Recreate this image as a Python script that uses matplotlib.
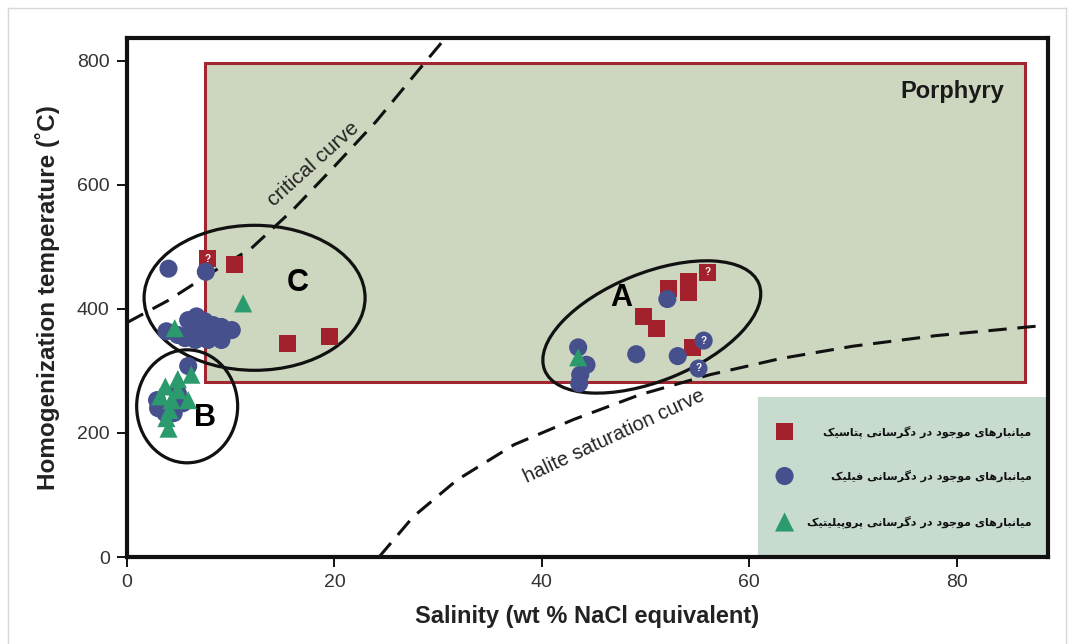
import numpy as np
import matplotlib
matplotlib.use("Agg")
import matplotlib.pyplot as plt
from matplotlib.patches import Rectangle, Ellipse
from matplotlib.transforms import ScaledTranslation
from matplotlib.lines import Line2D

plt.rcParams['font.family'] = ['Liberation Sans', 'DejaVu Sans']

# --- data ---
# potassic (squares)
potassic_x = [7.8, 10.4, 15.5, 19.5, 52.2, 54.1, 54.1, 56.0, 49.8, 51.1, 54.5]
potassic_y = [481, 472, 345, 355, 433, 444, 426, 459, 388, 369, 338]
potassic_q = [0, 7]            # indices drawn with "?"

# phyllic (circles)
phyllic_x = [4.0, 7.6, 3.8, 5.9, 6.7, 7.5, 8.3, 9.1, 10.1, 5.6, 6.6, 7.8, 9.1, 7.2, 8.5, 6.2, 4.9,
             5.9, 2.9, 3.0, 4.9, 3.7, 5.4, 4.5,
             52.1, 43.5, 44.3, 43.7, 43.6, 49.1, 53.1, 55.6, 55.1]
phyllic_y = [465, 460, 364, 382, 388, 380, 374, 371, 366, 353, 350, 350, 350, 361, 358, 366, 358,
             308, 253, 240, 264, 232, 248, 232,
             416, 338, 310, 294, 280, 327, 324, 349, 304]
phyllic_q = [31, 32]

# propylitic (triangles)
propylitic_x = [11.2, 4.6, 6.2, 4.9, 3.7, 3.2, 4.3, 5.9, 4.9, 3.8, 4.0, 4.1, 43.5]
propylitic_y = [409, 369, 294, 287, 275, 259, 253, 253, 269, 224, 207, 237, 322]

# critical curve and halite saturation curve
critical_x = [0, 4, 8, 12, 16, 20, 24, 28, 31]
critical_y = [378, 414, 457, 498, 560, 630, 702, 783, 843]
halite_x = [24.3, 27.6, 31.8, 37.3, 43.1, 49.5, 56.2, 63.0, 70.0, 78.0, 88.8]
halite_y = [0, 65, 124, 181, 222, 262, 294, 320, 340, 357, 374]

legend_labels = ["میانبارهای موجود در دگرسانی پتاسیک",
                 "میانبارهای موجود در دگرسانی فیلیک",
                 "میانبارهای موجود در دگرسانی پروپیلیتیک"]

RED = '#a3212d'
BLUE = '#46508d'
GREEN = '#2b9a6c'

# simple persian shaping (matplotlib draws no arabic joining)
FORMS = {
    'ا': ('\uFE8D', '\uFE8E', None, None),
    'ب': ('\uFE8F', '\uFE90', '\uFE91', '\uFE92'),
    'ت': ('\uFE95', '\uFE96', '\uFE97', '\uFE98'),
    'ج': ('\uFE9D', '\uFE9E', '\uFE9F', '\uFEA0'),
    'د': ('\uFEA9', '\uFEAA', None, None),
    'ر': ('\uFEAD', '\uFEAE', None, None),
    'س': ('\uFEB1', '\uFEB2', '\uFEB3', '\uFEB4'),
    'ف': ('\uFED1', '\uFED2', '\uFED3', '\uFED4'),
    'ل': ('\uFEDD', '\uFEDE', '\uFEDF', '\uFEE0'),
    'م': ('\uFEE1', '\uFEE2', '\uFEE3', '\uFEE4'),
    'ن': ('\uFEE5', '\uFEE6', '\uFEE7', '\uFEE8'),
    'ه': ('\uFEE9', '\uFEEA', '\uFEEB', '\uFEEC'),
    'و': ('\uFEED', '\uFEEE', None, None),
    'پ': ('\uFB56', '\uFB57', '\uFB58', '\uFB59'),
    'گ': ('\uFB92', '\uFB93', '\uFB94', '\uFB95'),
    'ک': ('\uFB8E', '\uFB8F', '\uFB90', '\uFB91'),
    'ی': ('\uFBFC', '\uFBFD', '\uFBFE', '\uFBFF'),
}


def shape(s):
    out = []
    for i, ch in enumerate(s):
        f = FORMS.get(ch)
        if f is None:
            out.append(ch)
            continue
        prev = s[i - 1] if i > 0 else None
        nxt = s[i + 1] if i < len(s) - 1 else None
        jp = prev in FORMS and FORMS[prev][2] is not None
        jn = nxt in FORMS and f[2] is not None
        if jp and jn:
            out.append(f[3])
        elif jp:
            out.append(f[1])
        elif jn:
            out.append(f[2])
        else:
            out.append(f[0])
    return ''.join(out)[::-1]


fig = plt.figure(figsize=(10.73, 6.44), dpi=100)
ax = fig.add_axes([127/1073, 1-557/644, (1048-127)/1073, (557-38)/644])
ax.set_xlim(0, 88.8)
ax.set_ylim(0, 837)

# outer light border of the picture
fig.add_artist(Line2D([8/1073, 8/1073], [0, 1-8/644], transform=fig.transFigure, color='#d8d8d8', lw=1))
fig.add_artist(Line2D([8/1073, 1066/1073], [1-8/644, 1-8/644], transform=fig.transFigure, color='#d8d8d8', lw=1))
fig.add_artist(Line2D([1066/1073, 1066/1073], [0, 1-8/644], transform=fig.transFigure, color='#d8d8d8', lw=1))

# porphyry field and legend panel
ax.add_patch(Rectangle((7.5, 282), 79.1, 514, fc='#cdd6bf', ec='#a0262f', lw=2.2, zorder=1))
ax.text(79.6, 750, 'Porphyry', fontsize=17, fontweight='bold', ha='center', va='center', color='#1a1a1a', zorder=2)
ax.add_patch(Rectangle((60.8, 0), 28.5, 258, fc='#c7dbcf', ec='none', zorder=1))

# curves
ax.plot(critical_x, critical_y, color='#111', lw=2.2, dashes=(6, 3.5), zorder=3)
ax.plot(halite_x, halite_y, color='#111', lw=2.2, dashes=(6, 3.5), zorder=3)
ax.text(18.0, 634, 'critical curve', fontsize=15, rotation=42, ha='center', va='center', color='#222', zorder=3)
ax.text(47.0, 194, 'halite saturation curve', fontsize=14.5, rotation=25, ha='center', va='center', color='#222', zorder=3)


# ellipses drawn in screen units so rotation stays true
def ring(cx, cy, w, h, ang):
    tr = fig.dpi_scale_trans + ScaledTranslation(cx, cy, ax.transData)
    ax.add_patch(Ellipse((0, 0), w/100, h/100, angle=ang, transform=tr,
                         fill=False, ec='#111', lw=2.3, zorder=4))


ring(12.3, 418, 221, 145, 0)
ring(5.8, 243, 101, 113, 0)
ring(50.6, 371, 231, 108, 22)
ax.text(16.5, 442, 'C', fontsize=22, fontweight='bold', ha='center', va='center', zorder=4)
ax.text(7.5, 224, 'B', fontsize=22, fontweight='bold', ha='center', va='center', zorder=4)
ax.text(47.7, 418, 'A', fontsize=22, fontweight='bold', ha='center', va='center', zorder=4)

# points
ax.scatter(potassic_x, potassic_y, marker='s', s=150, c=RED, edgecolors='none', zorder=5)
ax.scatter(phyllic_x, phyllic_y, marker='o', s=170, c=BLUE, edgecolors='none', zorder=6)
ax.scatter(propylitic_x, propylitic_y, marker='^', s=170, c=GREEN, edgecolors='none', zorder=7)
for i in potassic_q:
    ax.text(potassic_x[i], potassic_y[i], '?', color='white', fontsize=7, fontweight='bold',
            ha='center', va='center', zorder=8)
for i in phyllic_q:
    ax.text(phyllic_x[i], phyllic_y[i], '?', color='white', fontsize=7, fontweight='bold',
            ha='center', va='center', zorder=8)

# legend inside the panel
leg_y = [201.6, 130.6, 56.5]
leg_m = [('s', RED, 150), ('o', BLUE, 170), ('^', GREEN, 190)]
for yy, (m, c, s), lab in zip(leg_y, leg_m, legend_labels):
    ax.scatter([63.4], [yy], marker=m, s=s, c=c, edgecolors='none', zorder=5)
    ax.text(87.2, yy, shape(lab), fontsize=8, fontweight='bold', family=['DejaVu Sans'],
            ha='right', va='center', color='#111', zorder=5)

for sp in ax.spines.values():
    sp.set_linewidth(3)
    sp.set_color('#111')
    sp.set_zorder(10)

ax.set_xticks([0, 20, 40, 60, 80])
ax.set_yticks([0, 200, 400, 600, 800])
ax.tick_params(direction='out', length=7.5, width=1.3, labelsize=14, labelcolor='#333', pad=5)
ax.set_xlabel('Salinity (wt % NaCl equivalent)', fontsize=17, fontweight='bold', color='#222', labelpad=10)
ax.set_ylabel('Homogenization temperature (˚C)', fontsize=17.5, fontweight='bold', color='#222', labelpad=12)

fig.savefig('out.png', dpi=100)
